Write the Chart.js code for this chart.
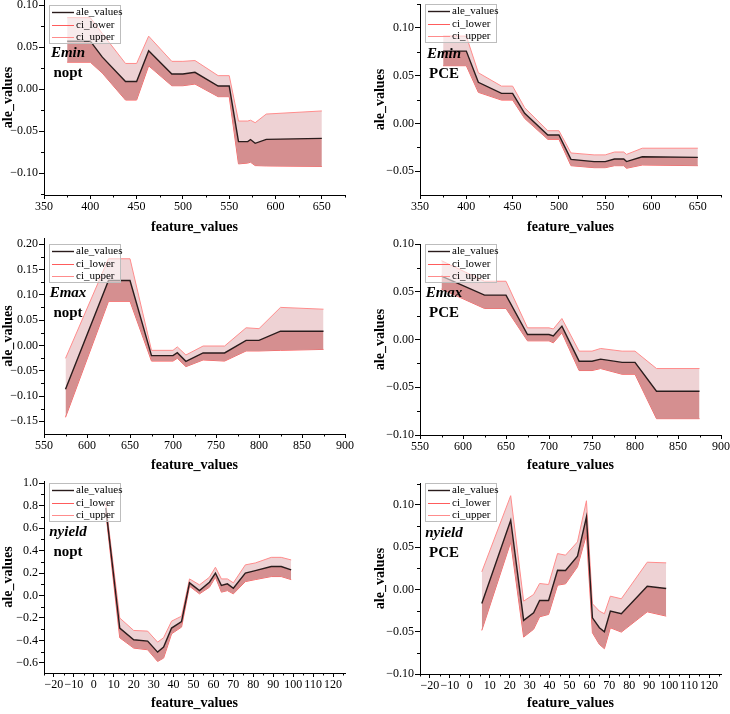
<!DOCTYPE html>
<html>
<head>
<meta charset="utf-8">
<script src="https://cdn.jsdelivr.net/npm/chart.js@4.4.1/dist/chart.umd.min.js"></script>
<style>
  body { margin: 0; background: #fff; }
  #grid { position: relative; width: 730px; height: 714px; }
  #grid canvas { position: absolute; }
</style>
</head>
<body>
<div id="grid">
  <canvas id="eminNopt" width="365" height="238" style="left:0;top:0"></canvas>
  <canvas id="eminPce" width="365" height="238" style="left:365px;top:0"></canvas>
  <canvas id="emaxNopt" width="365" height="238" style="left:0;top:238px"></canvas>
  <canvas id="emaxPce" width="365" height="238" style="left:365px;top:238px"></canvas>
  <canvas id="nyieldNopt" width="365" height="238" style="left:0;top:476px"></canvas>
  <canvas id="nyieldPce" width="365" height="238" style="left:365px;top:476px"></canvas>
</div>
<script>
// Emin -> nopt
const eminNoptX = [375, 400, 413, 438, 450, 463, 488, 500, 513, 538, 550, 560, 570, 573, 578, 590, 650];
const eminNoptAle = [0.057, 0.057, 0.038, 0.009, 0.009, 0.0455, 0.018, 0.018, 0.02, 0.0036, 0.0036, -0.0625, -0.0625, -0.06, -0.0645, -0.0598, -0.0586];
const eminNoptUpper = [0.085, 0.085, 0.066, 0.0305, 0.0305, 0.063, 0.033, 0.033, 0.034, 0.016, 0.016, -0.038, -0.038, -0.037, -0.04, -0.0297, -0.026];
const eminNoptLower = [0.032, 0.032, 0.019, -0.013, -0.013, 0.0277, 0.004, 0.004, 0.006, -0.009, -0.009, -0.089, -0.088, -0.087, -0.091, -0.0914, -0.092];

// Emin -> PCE
const eminPceX = [375, 400, 413, 438, 450, 463, 488, 500, 513, 538, 550, 560, 570, 573, 590, 650];
const eminPceAle = [0.0757, 0.0757, 0.043, 0.0314, 0.0314, 0.0105, -0.0122, -0.0122, -0.0377, -0.04, -0.04, -0.0373, -0.0373, -0.04, -0.035, -0.0356];
const eminPceUpper = [0.0914, 0.0914, 0.053, 0.039, 0.039, 0.0164, -0.0077, -0.0077, -0.031, -0.033, -0.033, -0.03, -0.03, -0.0325, -0.026, -0.026];
const eminPceLower = [0.0604, 0.0604, 0.0325, 0.0244, 0.0244, 0.0052, -0.0167, -0.0167, -0.0443, -0.0464, -0.0464, -0.0443, -0.0443, -0.047, -0.0436, -0.0443];

// Emax -> nopt
const emaxNoptX = [575, 625, 650, 675, 700, 705, 715, 735, 760, 785, 800, 825, 875];
const emaxNoptAle = [-0.0865, 0.128, 0.128, -0.0203, -0.0203, -0.0144, -0.0315, -0.015, -0.015, 0.0098, 0.0098, 0.028, 0.028];
const emaxNoptUpper = [-0.0256, 0.171, 0.171, -0.0098, -0.0098, -0.003, -0.019, -0.0013, -0.0013, 0.0347, 0.033, 0.075, 0.0714];
const emaxNoptLower = [-0.142, 0.087, 0.087, -0.031, -0.031, -0.0255, -0.042, -0.0288, -0.031, -0.011, -0.011, -0.0098, -0.008];

// Emax -> PCE
const emaxPceX = [575, 625, 650, 675, 700, 705, 715, 735, 750, 760, 785, 800, 825, 875];
const emaxPceAle = [0.0664, 0.0465, 0.0465, 0.0052, 0.0052, 0.0038, 0.014, -0.0227, -0.0227, -0.0206, -0.024, -0.024, -0.0542, -0.0542];
const emaxPceUpper = [0.0825, 0.061, 0.061, 0.0122, 0.0122, 0.011, 0.022, -0.0122, -0.0122, -0.0094, -0.0122, -0.0122, -0.0304, -0.0304];
const emaxPceLower = [0.0528, 0.0325, 0.0325, -0.0014, -0.0014, -0.0035, 0.007, -0.0325, -0.0325, -0.0304, -0.0364, -0.0364, -0.0829, -0.0829];

// nyield -> nopt
const nyieldNoptX = [6, 13, 20, 27, 32, 35, 39, 44, 48, 53, 58, 61, 64, 67, 70, 76, 81, 89, 94, 99];
const nyieldNoptAle = [0.78, -0.29, -0.394, -0.406, -0.504, -0.459, -0.29, -0.231, 0.113, 0.044, 0.119, 0.2, 0.089, 0.104, 0.065, 0.2, 0.222, 0.258, 0.258, 0.228];
const nyieldNoptUpper = [0.82, -0.2, -0.311, -0.317, -0.415, -0.376, -0.228, -0.184, 0.148, 0.095, 0.163, 0.252, 0.148, 0.148, 0.113, 0.273, 0.29, 0.34, 0.34, 0.317];
const nyieldNoptLower = [0.74, -0.376, -0.468, -0.483, -0.587, -0.557, -0.341, -0.281, 0.083, 0.015, 0.074, 0.163, 0.03, 0.044, 0.015, 0.124, 0.142, 0.169, 0.169, 0.142];

// nyield -> PCE
const nyieldPceX = [6, 20.5, 27, 32, 35, 39.5, 44, 48, 54, 58.5, 61.5, 65, 67.5, 70.5, 76, 89, 98.5];
const nyieldPceAle = [-0.0165, 0.0819, -0.0366, -0.0276, -0.013, -0.013, 0.0228, 0.0224, 0.0394, 0.0858, -0.0335, -0.0453, -0.05, -0.0256, -0.0287, 0.0039, 0.0012];
const nyieldPceUpper = [0.0209, 0.111, -0.0138, -0.0059, 0.0071, 0.0059, 0.0425, 0.0406, 0.0563, 0.105, -0.0169, -0.0256, -0.0287, -0.0079, -0.011, 0.0323, 0.0315];
const nyieldPceLower = [-0.0484, 0.056, -0.0563, -0.047, -0.0323, -0.0295, 0.0051, 0.0067, 0.0268, 0.065, -0.0512, -0.065, -0.07, -0.0453, -0.0504, -0.0264, -0.0315];

// tick labels
const eminXTicks = [350, 400, 450, 500, 550, 600, 650];
const emaxXTicks = [550, 600, 650, 700, 750, 800, 850, 900];
const nyieldXTicks = [-20, -10, 0, 10, 20, 30, 40, 50, 60, 70, 80, 90, 100, 110, 120];
const eminNoptYTicks = [-0.1, -0.05, 0, 0.05, 0.1];
const eminPceYTicks = [-0.05, 0, 0.05, 0.1];
const emaxNoptYTicks = [-0.15, -0.1, -0.05, 0, 0.05, 0.1, 0.15, 0.2];
const emaxPceYTicks = [-0.1, -0.05, 0, 0.05, 0.1];
const nyieldNoptYTicks = [-0.6, -0.4, -0.2, 0, 0.2, 0.4, 0.6, 0.8, 1.0];
const nyieldPceYTicks = [-0.1, -0.05, 0, 0.05, 0.1];

const FONT = "'Liberation Serif', 'Times New Roman', serif";

document.addEventListener("DOMContentLoaded", () => {
  Chart.register(minorTicksPlugin, panelTextPlugin, boxLegendPlugin);

  makePanel("eminNopt", {
    x: eminNoptX, ale: eminNoptAle, upper: eminNoptUpper, lower: eminNoptLower,
    xRange: [350, 675], yRange: [-0.126, 0.106], xTicks: eminXTicks, yTicks: eminNoptYTicks,
    xMinor: 25, yMinor: 0.025, yDecimals: 2,
    area: { left: 44, right: 345, top: 0, bottom: 195 },
    name: "Emin", target: "nopt", legendTop: 5, textY: 53,
  });
  makePanel("eminPce", {
    x: eminPceX, ale: eminPceAle, upper: eminPceUpper, lower: eminPceLower,
    xRange: [350, 675], yRange: [-0.075, 0.125], xTicks: eminXTicks, yTicks: eminPceYTicks,
    xMinor: 25, yMinor: 0.025, yDecimals: 2,
    area: { left: 55, right: 356, top: 4, bottom: 195 },
    name: "Emin", target: "PCE", legendTop: 4, textY: 54,
  });
  makePanel("emaxNopt", {
    x: emaxNoptX, ale: emaxNoptAle, upper: emaxNoptUpper, lower: emaxNoptLower,
    xRange: [550, 900], yRange: [-0.175, 0.212], xTicks: emaxXTicks, yTicks: emaxNoptYTicks,
    xMinor: 25, yMinor: 0.025, yDecimals: 2,
    area: { left: 44, right: 345, top: 0, bottom: 196 },
    name: "Emax", target: "nopt", legendTop: 6, textY: 55,
  });
  makePanel("emaxPce", {
    x: emaxPceX, ale: emaxPceAle, upper: emaxPceUpper, lower: emaxPceLower,
    xRange: [550, 900], yRange: [-0.1, 0.1], xTicks: emaxXTicks, yTicks: emaxPceYTicks,
    xMinor: 25, yMinor: 0.025, yDecimals: 2,
    area: { left: 55, right: 356, top: 6, bottom: 197 },
    name: "Emax", target: "PCE", legendTop: 6, textY: 55,
  });
  makePanel("nyieldNopt", {
    x: nyieldNoptX, ale: nyieldNoptAle, upper: nyieldNoptUpper, lower: nyieldNoptLower,
    xRange: [-25, 126], yRange: [-0.69, 1.02], xTicks: nyieldXTicks, yTicks: nyieldNoptYTicks,
    xMinor: 5, yMinor: 0.1, yDecimals: 1,
    area: { left: 44, right: 345, top: 5, bottom: 197 },
    name: "nyield", target: "nopt", legendTop: 7, textY: 56,
  });
  makePanel("nyieldPce", {
    x: nyieldPceX, ale: nyieldPceAle, upper: nyieldPceUpper, lower: nyieldPceLower,
    xRange: [-25, 126], yRange: [-0.1, 0.126], xTicks: nyieldXTicks, yTicks: nyieldPceYTicks,
    xMinor: 5, yMinor: 0.025, yDecimals: 2,
    area: { left: 55, right: 356, top: 7, bottom: 198 },
    name: "nyield", target: "PCE", legendTop: 7, textY: 57,
  });
});

function makePanel(canvasId, p) {
  const canvas = document.getElementById(canvasId);
  const pairs = (ys) => p.x.map((x, i) => ({ x, y: ys[i] }));
  const titlePad = p.area.left > 50 ? 7 : 0;

  new Chart(canvas, {
    type: "line",
    data: {
      datasets: [
        {
          label: "ale_values",
          data: pairs(p.ale),
          borderColor: "#2a1c1c",
          borderWidth: 1.4,
          backgroundColor: "#d58f90",
          fill: 1,
        },
        {
          label: "ci_lower",
          data: pairs(p.lower),
          borderColor: "#ff5c5c",
          borderWidth: 1,
          fill: false,
        },
        {
          label: "ci_upper",
          data: pairs(p.upper),
          borderColor: "#ff8c8c",
          borderWidth: 1,
          backgroundColor: "#eed2d4",
          fill: 0,
        },
      ],
    },
    options: {
      responsive: false,
      animation: false,
      layout: {
        padding: { top: p.area.top, right: 365 - p.area.right, left: 0, bottom: 0 },
      },
      elements: { point: { radius: 0 }, line: { tension: 0 } },
      plugins: {
        legend: { display: false },
        tooltip: { enabled: false },
        minorTicks: { x: p.xMinor, y: p.yMinor },
        panelText: { name: p.name, target: p.target, x: p.area.left + 24, y: p.textY },
        boxLegend: { top: p.legendTop },
      },
      scales: {
        x: axisOptions("feature_values", p.xRange, p.xTicks, 0, 4, 1,
          238 - p.area.bottom, { top: 0, bottom: 2 }),
        y: axisOptions("ale_values", p.yRange, p.yTicks, p.yDecimals, 5, 1,
          p.area.left, { top: titlePad, bottom: 0 }),
      },
    },
  });
}

function axisOptions(title, range, ticks, decimals, tickLength, padding, size, titlePadding) {
  return {
    type: "linear",
    min: range[0],
    max: range[1],
    afterBuildTicks: (scale) => {
      scale.ticks = ticks.map((value) => ({ value }));
    },
    afterFit: (scale) => {
      if (scale.isHorizontal()) scale.height = size;
      else scale.width = size;
      scale.paddingLeft = 0;
      scale.paddingRight = 0;
      scale.paddingTop = 0;
      scale.paddingBottom = 0;
    },
    grid: { drawOnChartArea: false, tickLength, tickColor: "#000", tickWidth: 1 },
    border: { color: "#000", width: 1 },
    ticks: {
      color: "#000",
      padding,
      autoSkip: false,
      maxRotation: 0,
      font: { family: FONT, size: 12 },
      callback: (value) => value.toFixed(decimals).replace("-", "\u2212"),
    },
    title: {
      display: true,
      text: title,
      color: "#000",
      padding: titlePadding,
      font: { family: FONT, size: 14, weight: "bold" },
    },
  };
}

// Origin style short minor ticks between the labelled ones
const minorTicksPlugin = {
  id: "minorTicks",
  afterDraw(chart, args, opts) {
    const { ctx } = chart;
    ctx.save();
    ctx.strokeStyle = "#000";
    ctx.lineWidth = 1;
    ["x", "y"].forEach((id) => {
      const scale = chart.scales[id];
      const step = opts[id];
      const majors = scale.ticks.map((t) => t.value);
      for (let k = Math.ceil(scale.min / step); k * step <= scale.max + 1e-9; k++) {
        const v = k * step;
        if (majors.some((m) => Math.abs(m - v) < step / 10)) continue;
        const pos = Math.round(scale.getPixelForValue(v)) + 0.5;
        ctx.beginPath();
        if (id === "x") {
          ctx.moveTo(pos, scale.top);
          ctx.lineTo(pos, scale.top + 2.5);
        } else {
          ctx.moveTo(scale.right, pos);
          ctx.lineTo(scale.right - 3, pos);
        }
        ctx.stroke();
      }
    });
    ctx.restore();
  },
};

// "Emin / nopt" style note under the legend
const panelTextPlugin = {
  id: "panelText",
  afterDraw(chart, args, opts) {
    const { ctx } = chart;
    ctx.save();
    ctx.fillStyle = "#000";
    ctx.textAlign = "center";
    ctx.textBaseline = "middle";
    ctx.font = "italic bold 15px " + FONT;
    ctx.fillText(opts.name, opts.x, opts.y);
    ctx.font = "bold 15px " + FONT;
    ctx.fillText(opts.target, opts.x, opts.y + 20);
    ctx.restore();
  },
};

// boxed legend sitting inside the plot, top left
const boxLegendPlugin = {
  id: "boxLegend",
  afterDatasetsDraw(chart, args, opts) {
    const { ctx } = chart;
    const left = chart.chartArea.left + 5;
    const top = opts.top;
    ctx.save();
    ctx.fillStyle = "rgba(255, 255, 255, 0.55)";
    ctx.fillRect(left, top, 71, 38);
    ctx.strokeStyle = "#bdbdbd";
    ctx.lineWidth = 1;
    ctx.strokeRect(left + 0.5, top + 0.5, 71, 38);
    ctx.font = "11px " + FONT;
    ctx.textBaseline = "middle";
    chart.data.datasets.forEach((ds, i) => {
      const y = Math.round(top + 7 + i * 12.5) + 0.5;
      ctx.strokeStyle = ds.borderColor;
      ctx.lineWidth = ds.borderWidth;
      ctx.beginPath();
      ctx.moveTo(left + 3, y);
      ctx.lineTo(left + 25, y);
      ctx.stroke();
      ctx.fillStyle = "#000";
      ctx.fillText(ds.label, left + 27, y);
    });
    ctx.restore();
  },
};
</script>
</body>
</html>
